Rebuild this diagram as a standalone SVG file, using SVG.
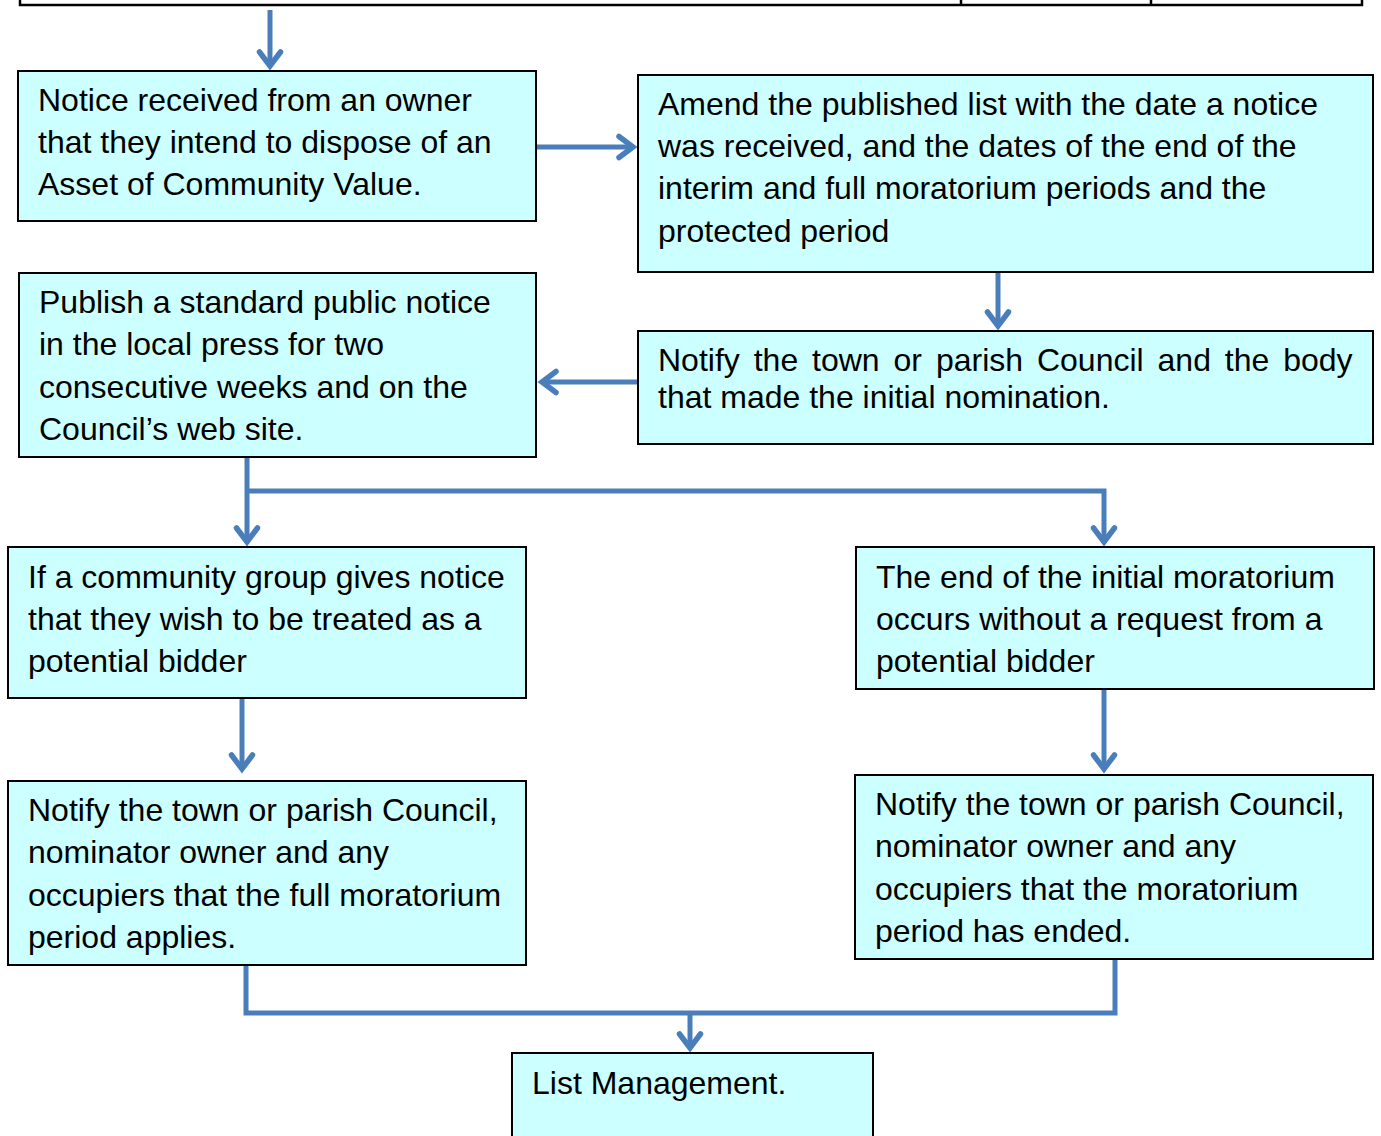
<svg xmlns="http://www.w3.org/2000/svg" width="1381" height="1136" viewBox="0 0 1381 1136">
<style>
.box{fill:#CCFFFF;stroke:#000;stroke-width:2}
.t{font-family:"Liberation Sans",Arial,sans-serif;font-size:32px;fill:#000}
.c{fill:none;stroke:#4A7EBB;stroke-width:5}
.tbl{fill:none;stroke:#000;stroke-width:2.5}
</style>
<defs>
<marker id="ah" markerUnits="userSpaceOnUse" viewBox="-22 -16 26 32" markerWidth="26" markerHeight="32" refX="0" refY="0" orient="auto">
<polyline points="-15,-10.5 -1,0 -15,10.5" fill="none" stroke="#4A7EBB" stroke-width="5.5" stroke-linecap="round" stroke-linejoin="miter"/>
</marker>
</defs>
<g id="table">
<path class="tbl" d="M20,0 V5 H1362 V0 M961,0 V5 M1151,0 V5"/>
</g>
<g id="connectors">
<path class="c" d="M270,10 V67" marker-end="url(#ah)"/>
<path class="c" d="M536,147 H634" marker-end="url(#ah)"/>
<path class="c" d="M998,273 V327" marker-end="url(#ah)"/>
<path class="c" d="M638,382 H541" marker-end="url(#ah)"/>
<path class="c" d="M247,457 V543" marker-end="url(#ah)"/>
<path class="c" d="M247,491 H1104 V543" marker-end="url(#ah)"/>
<path class="c" d="M242,699 V770" marker-end="url(#ah)"/>
<path class="c" d="M1104,689 V770" marker-end="url(#ah)"/>
<path class="c" d="M246,965 V1013 H1115 V959"/>
<path class="c" d="M690,1013 V1049" marker-end="url(#ah)"/>
</g>
<g id="n1">
<rect class="box" x="18" y="71" width="518" height="150"/>
<text class="t" x="38" y="111">Notice received from an owner</text>
<text class="t" x="38" y="153">that they intend to dispose of an</text>
<text class="t" x="38" y="195">Asset of Community Value.</text>
</g>
<g id="n2">
<rect class="box" x="638" y="75" width="735" height="197"/>
<text class="t" x="658" y="115">Amend the published list with the date a notice</text>
<text class="t" x="658" y="157">was received, and the dates of the end of the</text>
<text class="t" x="658" y="199">interim and full moratorium periods and the</text>
<text class="t" x="658" y="242">protected period</text>
</g>
<g id="n3">
<rect class="box" x="19" y="273" width="517" height="184"/>
<text class="t" x="39" y="313">Publish a standard public notice</text>
<text class="t" x="39" y="355">in the local press for two</text>
<text class="t" x="39" y="398">consecutive weeks and on the</text>
<text class="t" x="39" y="440">Council’s web site.</text>
</g>
<g id="n4">
<rect class="box" x="638" y="331" width="735" height="113"/>
<text class="t" x="658" y="371" word-spacing="5">Notify the town or parish Council and the body</text>
<text class="t" x="658" y="408">that made the initial nomination.</text>
</g>
<g id="n5">
<rect class="box" x="8" y="547" width="518" height="151"/>
<text class="t" x="28" y="588">If a community group gives notice</text>
<text class="t" x="28" y="630">that they wish to be treated as a</text>
<text class="t" x="28" y="672">potential bidder</text>
</g>
<g id="n6">
<rect class="box" x="856" y="547" width="518" height="142"/>
<text class="t" x="876" y="588">The end of the initial moratorium</text>
<text class="t" x="876" y="630">occurs without a request from a</text>
<text class="t" x="876" y="672">potential bidder</text>
</g>
<g id="n7">
<rect class="box" x="8" y="781" width="518" height="184"/>
<text class="t" x="28" y="821">Notify the town or parish Council,</text>
<text class="t" x="28" y="863">nominator owner and any</text>
<text class="t" x="28" y="906">occupiers that the full moratorium</text>
<text class="t" x="28" y="948">period applies.</text>
</g>
<g id="n8">
<rect class="box" x="855" y="775" width="518" height="184"/>
<text class="t" x="875" y="815">Notify the town or parish Council,</text>
<text class="t" x="875" y="857">nominator owner and any</text>
<text class="t" x="875" y="900">occupiers that the moratorium</text>
<text class="t" x="875" y="942">period has ended.</text>
</g>
<g id="n9">
<rect class="box" x="512" y="1053" width="361" height="100"/>
<text class="t" x="532" y="1094">List Management.</text>
</g>
</svg>
